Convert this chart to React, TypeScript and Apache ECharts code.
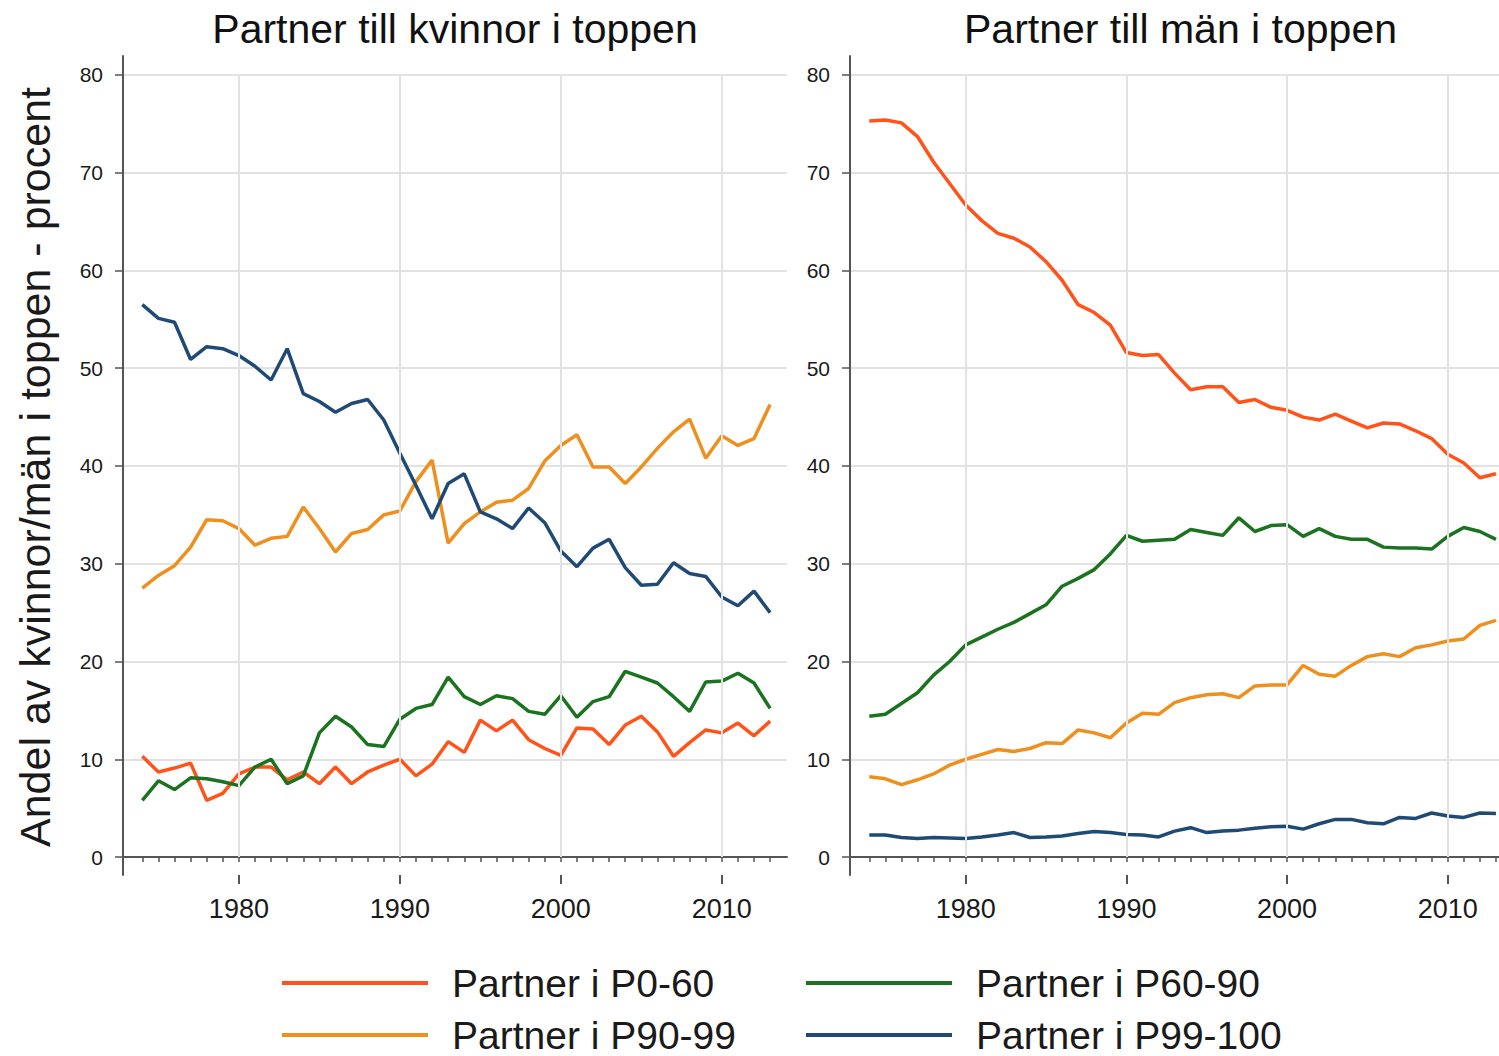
import React, { useEffect, useRef } from "react";
import * as echarts from "echarts";

const years: number[] = [];
for (let y = 1974; y <= 2013; y++) years.push(y);

const majorYears = [1980, 1990, 2000, 2010];
const yTicks = [0, 10, 20, 30, 40, 50, 60, 70, 80];

const seriesNames = ["Partner i P0-60", "Partner i P60-90", "Partner i P90-99", "Partner i P99-100"];
const seriesColors = ["#ff5319", "#1b7320", "#ef8f1d", "#1f4a76"];

const panelTitles = ["Partner till kvinnor i toppen", "Partner till män i toppen"];
const yAxisTitle = "Andel av kvinnor/män i toppen - procent";

// Left panel: partners of women at the top
const womenP0_60 = [10.3, 8.7, 9.1, 9.6, 5.8, 6.5, 8.5, 9.2, 9.2, 7.9, 8.7, 7.5, 9.2, 7.5, 8.7, 9.4, 10.0, 8.3, 9.5, 11.8, 10.7, 14.0, 12.9, 14.0, 12.0, 11.1, 10.4, 13.2, 13.1, 11.5, 13.5, 14.4, 12.8, 10.3, 11.7, 13.0, 12.7, 13.7, 12.4, 13.9];
const womenP60_90 = [5.8, 7.8, 6.9, 8.1, 8.0, 7.7, 7.3, 9.2, 10.0, 7.5, 8.3, 12.7, 14.4, 13.3, 11.5, 11.3, 14.1, 15.2, 15.6, 18.4, 16.4, 15.6, 16.5, 16.2, 14.9, 14.6, 16.5, 14.3, 15.9, 16.4, 19.0, 18.4, 17.8, 16.4, 14.9, 17.9, 18.0, 18.8, 17.8, 15.2];
const womenP90_99 = [27.5, 28.8, 29.8, 31.7, 34.5, 34.4, 33.6, 31.9, 32.6, 32.8, 35.8, 33.6, 31.2, 33.1, 33.5, 35.0, 35.4, 38.4, 40.6, 32.1, 34.1, 35.3, 36.3, 36.5, 37.7, 40.5, 42.1, 43.2, 39.9, 39.9, 38.2, 39.9, 41.8, 43.5, 44.8, 40.8, 43.1, 42.1, 42.8, 46.3];
const womenP99_100 = [56.5, 55.1, 54.7, 50.9, 52.2, 52.0, 51.3, 50.2, 48.8, 52.0, 47.4, 46.6, 45.5, 46.4, 46.8, 44.7, 41.3, 38.0, 34.6, 38.2, 39.2, 35.3, 34.6, 33.6, 35.7, 34.2, 31.3, 29.7, 31.6, 32.5, 29.6, 27.8, 27.9, 30.1, 29.0, 28.7, 26.6, 25.7, 27.2, 25.0];

// Right panel: partners of men at the top
const menP0_60 = [75.3, 75.4, 75.1, 73.7, 71.1, 68.9, 66.7, 65.1, 63.8, 63.3, 62.4, 60.9, 59.0, 56.5, 55.7, 54.4, 51.6, 51.3, 51.4, 49.5, 47.8, 48.1, 48.1, 46.5, 46.8, 46.0, 45.7, 45.0, 44.7, 45.3, 44.6, 43.9, 44.4, 44.3, 43.6, 42.8, 41.2, 40.3, 38.8, 39.2];
const menP60_90 = [14.4, 14.6, 15.7, 16.8, 18.6, 20.0, 21.7, 22.5, 23.3, 24.0, 24.9, 25.8, 27.7, 28.5, 29.4, 31.0, 32.9, 32.3, 32.4, 32.5, 33.5, 33.2, 32.9, 34.7, 33.3, 33.9, 34.0, 32.8, 33.6, 32.8, 32.5, 32.5, 31.7, 31.6, 31.6, 31.5, 32.8, 33.7, 33.3, 32.5];
const menP90_99 = [8.2, 8.0, 7.4, 7.9, 8.5, 9.4, 10.0, 10.5, 11.0, 10.8, 11.1, 11.7, 11.6, 13.0, 12.7, 12.2, 13.7, 14.7, 14.6, 15.8, 16.3, 16.6, 16.7, 16.3, 17.5, 17.6, 17.6, 19.6, 18.7, 18.5, 19.6, 20.5, 20.8, 20.5, 21.4, 21.7, 22.1, 22.3, 23.7, 24.2];
const menP99_100 = [2.25, 2.25, 2.0, 1.9, 2.0, 1.95, 1.9, 2.05, 2.25, 2.5, 2.0, 2.05, 2.15, 2.4, 2.6, 2.5, 2.3, 2.25, 2.05, 2.65, 3.0, 2.5, 2.65, 2.75, 2.95, 3.1, 3.15, 2.85, 3.4, 3.85, 3.85, 3.5, 3.4, 4.05, 3.95, 4.5, 4.2, 4.05, 4.5, 4.45];

const panels = [
  [womenP0_60, womenP60_90, womenP90_99, womenP99_100],
  [menP0_60, menP60_90, menP90_99, menP99_100],
];

const FONT = "'Liberation Sans', Arial, sans-serif";
const AXIS_COLOR = "#555555";
const GRID_COLOR = "#e2e2e2";
const TEXT_COLOR = "#1a1a1a";

export default function App() {
  const ref = useRef<HTMLDivElement>(null);

  useEffect(() => {
    if (!ref.current) return;
    const chart = echarts.init(ref.current, undefined, { renderer: "svg" });

    const grids = [
      { left: 123, top: 56, width: 664, height: 819 },
      { left: 850, top: 56, width: 649, height: 819 },
    ];
    const xMax = [2014.05, 2013.19];
    const xMin = 1972.8;
    const titleCenters = [450, 1175.5];

    const xAxes: any[] = [];
    const yAxes: any[] = [];
    const series: any[] = [];

    grids.forEach((g, gi) => {
      xAxes.push({
        type: "value",
        gridIndex: gi,
        position: "bottom",
        min: xMin,
        max: xMax[gi],
        axisLine: { show: true, lineStyle: { color: AXIS_COLOR, width: 2 } },
        axisTick: {
          show: true,
          customValues: years,
          length: 5,
          lineStyle: { color: AXIS_COLOR, width: 1.5 },
        },
        axisLabel: {
          show: true,
          customValues: majorYears,
          margin: 20,
          fontSize: 27,
          fontFamily: FONT,
          color: TEXT_COLOR,
          formatter: (v: number) => String(Math.round(v)),
        },
        splitLine: { show: false },
      });
      xAxes.push({
        type: "value",
        gridIndex: gi,
        position: "bottom",
        min: xMin,
        max: xMax[gi],
        axisLine: { show: false },
        axisTick: {
          show: true,
          customValues: majorYears,
          length: 9,
          lineStyle: { color: AXIS_COLOR, width: 2 },
        },
        axisLabel: { show: false },
        splitLine: { show: false },
      });
      yAxes.push({
        type: "value",
        gridIndex: gi,
        min: -1.84,
        max: 81.94,
        axisLine: { show: true, lineStyle: { color: AXIS_COLOR, width: 2 } },
        axisTick: {
          show: true,
          customValues: yTicks,
          length: 8,
          lineStyle: { color: AXIS_COLOR, width: 1.5 },
        },
        axisLabel: {
          show: true,
          customValues: yTicks,
          margin: 20,
          fontSize: 21,
          fontFamily: FONT,
          color: TEXT_COLOR,
        },
        splitLine: { show: true, lineStyle: { color: GRID_COLOR, width: 2 } },
      });

      // vertical grid lines between 0 and 80 at major years
      series.push({
        type: "line",
        name: "grid-" + gi,
        xAxisIndex: gi * 2,
        yAxisIndex: gi,
        data: [],
        z: 1,
        silent: true,
        markLine: {
          silent: true,
          symbol: ["none", "none"],
          label: { show: false },
          lineStyle: { color: GRID_COLOR, width: 2, type: "solid" },
          data: majorYears.map((v) => [{ coord: [v, 0] }, { coord: [v, 80] }]),
        },
      });

      panels[gi].forEach((vals, si) => {
        series.push({
          type: "line",
          name: seriesNames[si],
          xAxisIndex: gi * 2,
          yAxisIndex: gi,
          data: years.map((y, i) => [y, vals[i]]),
          showSymbol: false,
          symbol: "none",
          z: 3,
          lineStyle: { color: seriesColors[si], width: 3.5 },
          itemStyle: { color: seriesColors[si] },
        });
      });
    });

    const legendPos = [
      { lx: 282, ly: 983 },
      { lx: 806, ly: 983 },
      { lx: 282, ly: 1035 },
      { lx: 806, ly: 1035 },
    ];

    const graphics: any[] = [
      {
        type: "text",
        x: 35,
        y: 467,
        rotation: Math.PI / 2,
        style: {
          text: yAxisTitle,
          font: "43px " + FONT,
          fill: TEXT_COLOR,
          textAlign: "center",
          textVerticalAlign: "middle",
          align: "center",
          verticalAlign: "middle",
        },
      },
    ];
    seriesNames.forEach((name, i) => {
      const p = legendPos[i];
      graphics.push({
        type: "line",
        shape: { x1: p.lx, y1: p.ly, x2: p.lx + 146, y2: p.ly },
        style: { stroke: seriesColors[i], lineWidth: 4 },
      });
      graphics.push({
        type: "text",
        x: p.lx + 170,
        y: p.ly,
        style: {
          text: name,
          font: "39px " + FONT,
          lineHeight: 38,
          fill: TEXT_COLOR,
          textVerticalAlign: "middle",
          verticalAlign: "middle",
        },
      });
    });

    chart.setOption({
      animation: false,
      backgroundColor: "#ffffff",
      title: panelTitles.map((t, i) => ({
        text: t,
        left: titleCenters[i],
        top: 3,
        textAlign: "center",
        textStyle: { fontSize: 41, fontWeight: "normal", fontFamily: FONT, color: "#111111" },
      })),
      grid: grids,
      xAxis: xAxes,
      yAxis: yAxes,
      series,
      graphic: graphics,
    });

    return () => chart.dispose();
  }, []);

  return (
    <div
      ref={ref}
      style={{ position: "fixed", left: 0, top: 0, width: 1499, height: 1056, background: "#fff" }}
    />
  );
}
